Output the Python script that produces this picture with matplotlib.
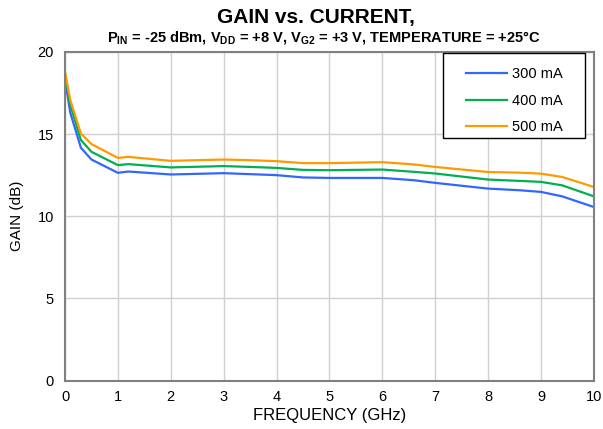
import matplotlib
matplotlib.use("Agg")
import matplotlib.pyplot as plt
from matplotlib.patches import Rectangle

plt.rcParams['font.family'] = ['Liberation Sans', 'DejaVu Sans']
plt.rcParams['mathtext.fontset'] = 'custom'
plt.rcParams['mathtext.rm'] = 'Liberation Sans:bold'
plt.rcParams['mathtext.it'] = 'Liberation Sans:bold'
plt.rcParams['mathtext.bf'] = 'Liberation Sans:bold'

freq = [0.0, 0.1, 0.3, 0.5, 1.0, 1.2, 2.0, 3.0, 3.5, 4.0, 4.5, 5.0, 6.0, 6.6, 7.0, 8.0, 8.6, 9.0, 9.4, 10.0]
gain_300 = [18.3, 16.3, 14.17, 13.45, 12.64, 12.72, 12.54, 12.62, 12.56, 12.50, 12.36, 12.33, 12.33, 12.19, 12.03, 11.68, 11.58, 11.48, 11.21, 10.56]
gain_400 = [18.6, 16.78, 14.64, 13.92, 13.11, 13.17, 12.97, 13.05, 13.0, 12.94, 12.82, 12.80, 12.84, 12.70, 12.60, 12.23, 12.15, 12.09, 11.88, 11.21]
gain_500 = [18.8, 17.07, 15.04, 14.39, 13.55, 13.61, 13.37, 13.45, 13.41, 13.35, 13.23, 13.23, 13.29, 13.15, 13.0, 12.69, 12.65, 12.59, 12.39, 11.78]
labels = ['300 mA', '400 mA', '500 mA']
colors = ['#3366ff', '#00b050', '#ff9900']

fig = plt.figure(figsize=(6.03, 4.29), dpi=100)
ax = fig.add_axes([0.1078, 0.113, 0.877, 0.766])

for g, lab, c in zip([gain_300, gain_400, gain_500], labels, colors):
    ax.plot(freq, g, color=c, lw=1.6, label=lab)

ax.set_xlim(0, 10)
ax.set_ylim(0, 20)
ax.set_xticks(range(0, 11))
ax.set_yticks([0, 5, 10, 15, 20])
ax.grid(True, color='#d0d0d0', lw=1.0)
ax.set_axisbelow(True)
ax.tick_params(length=0, labelsize=10.5, colors='black')
ax.tick_params(axis='x', pad=7)
ax.tick_params(axis='y', pad=8)
for s in ax.spines.values():
    s.set_color('#808080')
    s.set_linewidth(1.5)

ax.set_xlabel('FREQUENCY (GHz)', fontsize=12, labelpad=3)
ax.set_ylabel('GAIN (dB)', fontsize=11, labelpad=10)

# legend box frame
ax.add_patch(Rectangle((0.7146, 0.738), 0.2684, 0.259, transform=ax.transAxes,
                       facecolor='white', edgecolor='black', lw=1.0, zorder=5))
leg = ax.legend(loc='upper left', bbox_to_anchor=(0.758, 0.953), fontsize=10.5,
                frameon=False, handlelength=2.85, borderpad=0, labelspacing=0.85,
                handletextpad=0.3, borderaxespad=0)
leg.set_zorder(6)

fig.text(0.524, 0.946, 'GAIN vs. CURRENT,', ha='center', va='baseline',
         fontsize=15, fontweight='bold')
fig.text(0.537, 0.903,
         r'P$_{\mathrm{IN}}$ = -25 dBm, V$_{\mathrm{DD}}$ = +8 V, V$_{\mathrm{G2}}$ = +3 V, TEMPERATURE = +25°C',
         ha='center', va='baseline', fontsize=10.5, fontweight='bold')

fig.savefig('out.png', dpi=100)
